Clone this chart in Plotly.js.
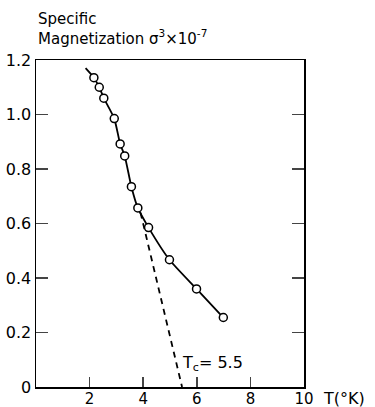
<!DOCTYPE html>
<html><head><meta charset="utf-8">
<script src="https://cdn.plot.ly/plotly-3.0.1.min.js"></script>
<style>html,body{margin:0;padding:0;background:#fff}#chart{width:375px;height:407px}</style>
</head><body><div id="chart"></div>
<script>
// Measured points: temperature (K) and specific magnetization sigma^3 x 10^-7
const tempK = [2.16, 2.36, 2.53, 2.92, 3.14, 3.31, 3.56, 3.80, 4.20, 4.98, 5.99, 6.99];
const magnet = [1.135, 1.10, 1.06, 0.985, 0.892, 0.848, 0.735, 0.657, 0.585, 0.467, 0.36, 0.255];
// Where the drawn curve starts (before first point)
const curveStartT = [1.85];
const curveStartM = [1.17];
// Dashed extrapolation to Tc
const extrapT = [3.9, 5.45];
const extrapM = [0.64, 0];
const tcValue = 5.5;
// Tick labels
const xTicks = [2, 4, 6, 8, 10];
const yTicks = [0, 0.2, 0.4, 0.6, 0.8, 1.0, 1.2];
const yTickText = ["0", "0.2", "0.4", "0.6", "0.8", "1.0", "1.2"];

const F = "DejaVu Sans, Liberation Sans, sans-serif";
const traces = [
  {x: curveStartT.concat(tempK), y: curveStartM.concat(magnet), mode: 'lines',
   line: {color: '#000', width: 1.8, shape: 'spline', smoothing: 0.6}, hoverinfo: 'skip'},
  {x: extrapT, y: extrapM, mode: 'lines', line: {color: '#000', width: 1.8, dash: '6px,5px'}},
  {x: tempK, y: magnet, mode: 'markers',
   marker: {symbol: 'circle', size: 8, color: '#fff', line: {color: '#000', width: 1.5}}}
];
const layout = {
  width: 375, height: 407, showlegend: false,
  paper_bgcolor: '#fff', plot_bgcolor: '#fff',
  margin: {l: 35.5, r: 71, t: 60, b: 20},
  font: {family: F, size: 15, color: '#000'},
  xaxis: {range: [0, 10], tickvals: xTicks, ticktext: xTicks.map(String), ticks: 'inside', ticklen: 10,
    tickwidth: 1.5, showline: true, linewidth: 1.5, linecolor: '#000', mirror: true, showgrid: false,
    zeroline: false, automargin: false, ticklabelstandoff: -3, tickfont: {family: F, size: 15}},
  yaxis: {range: [0, 1.2], tickvals: yTicks, ticktext: yTickText, ticks: 'inside', ticklen: 12,
    tickwidth: 1.5, showline: true, linewidth: 1.5, linecolor: '#000', mirror: 'ticks', showgrid: false,
    zeroline: false, automargin: false, tickfont: {family: F, size: 16}},
  annotations: [
    {xref: 'paper', yref: 'paper', x: 0, y: 1, yshift: 52, xanchor: 'left', yanchor: 'top', align: 'left',
     showarrow: false, font: {family: F, size: 15},
     text: 'Specific<br>Magnetization σ<sup>3</sup>×10<sup>-7</sup>'},
    {xref: 'paper', yref: 'paper', x: 1, y: 0, xshift: 17, yshift: -11, xanchor: 'left', yanchor: 'middle',
     showarrow: false, font: {family: F, size: 16}, text: 'T(°K)'},
    {xref: 'x', yref: 'y', x: 6.6, y: 0.085, showarrow: false, font: {family: F, size: 16},
     text: 'T<sub>c</sub>= ' + tcValue}
  ]
};
Plotly.newPlot('chart', traces, layout, {displayModeBar: false, staticPlot: true});
</script></body></html>
